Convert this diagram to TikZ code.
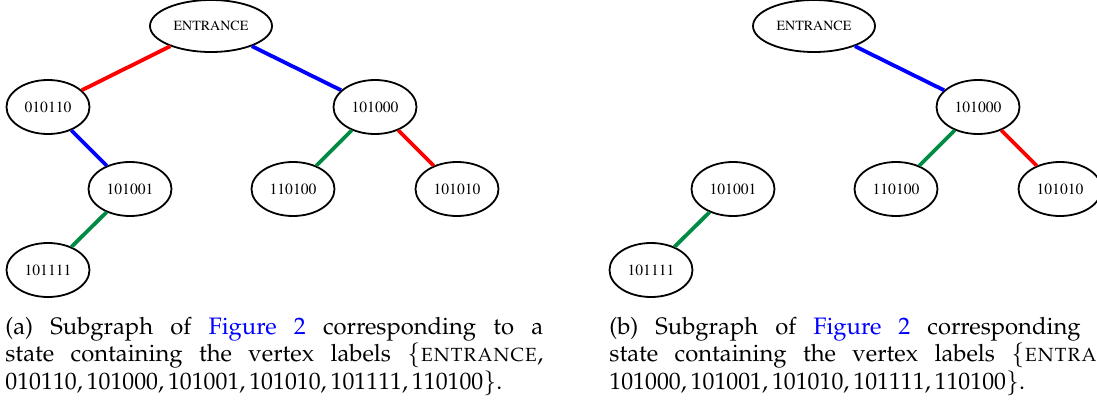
\documentclass[tikz,border=0pt]{standalone}
\usepackage[T1]{fontenc}
\usepackage{mathpazo}
\usetikzlibrary{shapes.geometric}

\definecolor{gvred}{RGB}{255,0,0}
\definecolor{gvblue}{RGB}{0,0,255}
\definecolor{gvgreen}{RGB}{0,139,69}

\newcommand{\gvfont}{\fontfamily{ptm}\fontsize{7.8}{9}\selectfont}
\newcommand{\capfont}{\fontsize{11.9}{12.5}\selectfont}

\begin{document}
\begin{tikzpicture}[x=0.5pt,y=0.5pt,
    vertex/.style={ellipse,draw,line width=0.9pt,inner sep=0pt,
        minimum width=41.5pt,minimum height=27pt,font=\gvfont},
    entrance/.style={vertex,minimum width=61pt,minimum height=26pt},
    edge/.style={line width=1.9pt},
    caption/.style={anchor=north west,inner sep=0pt,text width=269pt,
        align=justify,font=\capfont}]
\useasboundingbox (0,0) rectangle (1097,404);
\clip (0,0) rectangle (1097,404);

% (a) left tree
\node[entrance] (entA) at (211,378) {\fontsize{7}{8}\selectfont ENTRANCE};
\node[vertex] (a010110) at (48,297) {010110};
\node[vertex] (a101000) at (375,297) {101000};
\node[vertex] (a101001) at (130,215) {101001};
\node[vertex] (a110100) at (293,215) {110100};
\node[vertex] (a101010) at (457,215) {101010};
\node[vertex] (a101111) at (48,134) {101111};

\draw[edge,gvred] (entA) -- (a010110);
\draw[edge,gvblue] (entA) -- (a101000);
\draw[edge,gvblue] (a010110) -- (a101001);
\draw[edge,gvgreen] (a101001) -- (a101111);
\draw[edge,gvgreen] (a101000) -- (a110100);
\draw[edge,gvred] (a101000) -- (a101010);

% (b) right tree
\node[entrance] (entB) at (814,378) {\fontsize{7}{8}\selectfont ENTRANCE};
\node[vertex] (b101000) at (978,297) {101000};
\node[vertex] (b101001) at (733,215) {101001};
\node[vertex] (b110100) at (896,215) {110100};
\node[vertex] (b101010) at (1060,215) {101010};
\node[vertex] (b101111) at (651,134) {101111};

\draw[edge,gvblue] (entB) -- (b101000);
\draw[edge,gvgreen] (b101000) -- (b110100);
\draw[edge,gvred] (b101000) -- (b101010);
\draw[edge,gvgreen] (b101001) -- (b101111);

% captions
\node[caption] (capA) at (5,87) {(a) Subgraph of \textcolor{gvblue}{Figure 2} corresponding to a\linebreak
    state containing the vertex labels $\{$\textsc{entrance},\linebreak
    010110,\,101000,\,101001,\,101010,\,101111,\,110100$\}$.};
\node[caption] (capB) at (609,87) {(b) Subgraph of \textcolor{gvblue}{Figure 2} corresponding to a\linebreak
    state containing the vertex labels $\{$\textsc{entrance},\linebreak
    101000,\,101001,\,101010,\,101111,\,110100$\}$.};
\end{tikzpicture}
\end{document}
